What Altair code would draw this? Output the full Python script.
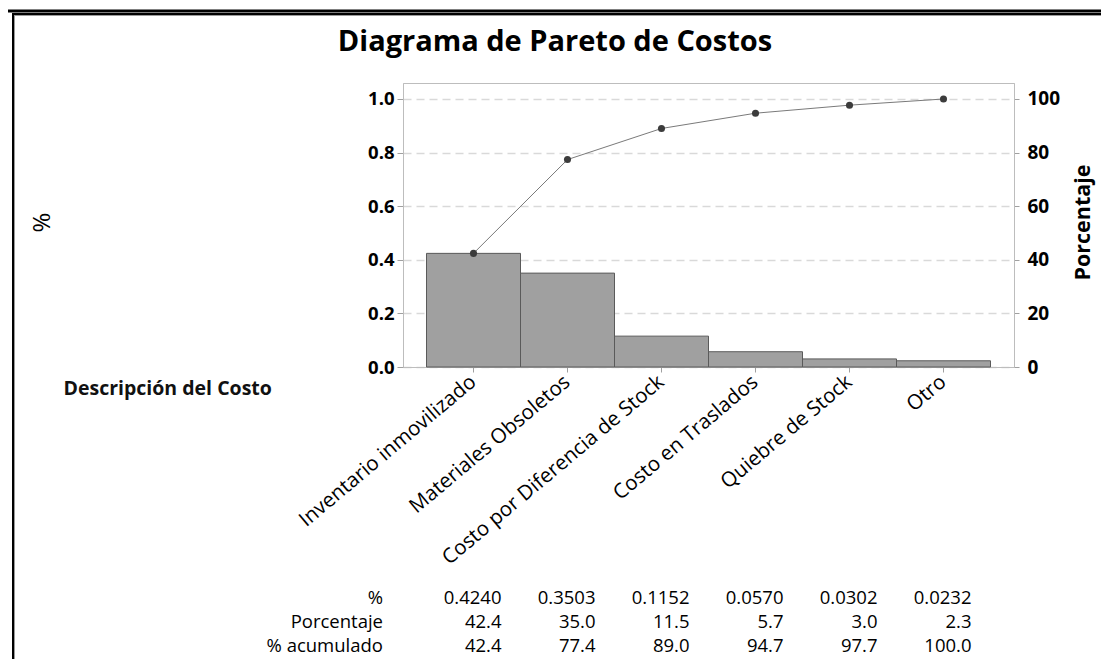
import altair as alt
import pandas as pd

categories = ["Inventario inmovilizado", "Materiales Obsoletos", "Costo por Diferencia de Stock",
              "Costo en Traslados", "Quiebre de Stock", "Otro"]
fraction = [0.4240, 0.3503, 0.1152, 0.0570, 0.0302, 0.0232]
porcentaje = [42.4, 35.0, 11.5, 5.7, 3.0, 2.3]
acumulado = [42.4, 77.4, 89.0, 94.7, 97.7, 100.0]
row_labels = ["%", "Porcentaje", "% acumulado"]
left_ticks = [0.0, 0.2, 0.4, 0.6, 0.8, 1.0]
right_ticks = [0, 20, 40, 60, 80, 100]

FONT = "Open Sans"
W, H = 611, 284

df = pd.DataFrame({"cat": categories, "frac": fraction, "pct": porcentaje, "acum": acumulado})

rows = []
for c, f, p, a in zip(categories, fraction, porcentaje, acumulado):
    rows.append({"cat": c, "row": row_labels[0], "txt": f"{f:.4f}"})
    rows.append({"cat": c, "row": row_labels[1], "txt": f"{p:.1f}"})
    rows.append({"cat": c, "row": row_labels[2], "txt": f"{a:.1f}"})
table_df = pd.DataFrame(rows)
labels_df = pd.DataFrame({"row": row_labels})
one = pd.DataFrame({"k": [0]})

xenc = alt.X("cat:N", sort=categories,
             scale=alt.Scale(paddingInner=0, paddingOuter=0.25),
             axis=alt.Axis(title="Descripción del Costo", labelAngle=-40, labelAlign="right",
                           labelBaseline="middle", labelFontSize=20.5, labelColor="black",
                           labelPadding=7, tickSize=5, tickColor="#a0a0a0", domainColor="#bdbdbd",
                           titleX=-340, titleY=21, titleAlign="left", titleBaseline="middle",
                           titleAngle=0, titleFontSize=19.5, titleFontWeight="bold",
                           titleColor="#111111", labelLimit=400))

bars = alt.Chart(df).mark_bar(fill="#a0a0a0", stroke="#5a5a5a", strokeWidth=1).encode(
    x=xenc,
    y=alt.Y("frac:Q", scale=alt.Scale(domain=[0, 1.0597], nice=False),
            axis=alt.Axis(title="%", values=left_ticks, format=".1f", labelFontSize=18.5,
                          labelFontWeight="bold", labelColor="black", labelPadding=3, tickSize=6,
                          tickColor="#a0a0a0", domainColor="#bdbdbd", grid=True,
                          gridColor="#d9d9d9", gridDash=[8, 5], gridWidth=1.5,
                          titleX=-361, titleY=139, titleAngle=270, titleAlign="center",
                          titleBaseline="middle", titleFontSize=24, titleFontWeight="normal",
                          titleColor="black"))
)

line = alt.Chart(df).mark_line(color="#7a7a7a", strokeWidth=1,
                               point=alt.OverlayMarkDef(filled=True, size=50, color="#3c3c3c")).encode(
    x=alt.X("cat:N", sort=categories),
    y=alt.Y("acum:Q", scale=alt.Scale(domain=[0, 105.97], nice=False),
            axis=alt.Axis(title="Porcentaje", orient="right", values=right_ticks, grid=False,
                          labelFontSize=19, labelFontWeight="bold", labelColor="black",
                          labelPadding=8, tickSize=5, tickColor="#a0a0a0", domainColor="#bdbdbd",
                          titleX=69, titleY=139, titleAngle=270, titleAlign="center",
                          titleBaseline="middle", titleFontSize=21.5, titleFontWeight="bold",
                          titleColor="black"))
)

table_vals = alt.Chart(table_df).mark_text(align="right", baseline="middle", dx=28,
                                           fontSize=18.5, color="black").encode(
    x=alt.X("cat:N", sort=categories),
    y=alt.Y("row:N", scale=alt.Scale(domain=row_labels, range=[515, 563], padding=0), axis=None),
    text="txt:N",
)

table_labels = alt.Chart(labels_df).mark_text(align="right", baseline="middle",
                                              fontSize=18.5, color="black").encode(
    x=alt.value(-20),
    y=alt.Y("row:N", scale=alt.Scale(domain=row_labels, range=[515, 563], padding=0), axis=None),
    text="row:N",
)

title = alt.Chart(one).mark_text(text="Diagrama de Pareto de Costos", fontSize=29,
                                 fontWeight="bold", align="center", baseline="middle",
                                 color="black").encode(x=alt.value(152), y=alt.value(-41))

top_bar = alt.Chart(one).mark_rule(color="black", strokeWidth=3).encode(
    x=alt.value(-395), x2=alt.value(698), y=alt.value(-72))
frame_top = alt.Chart(one).mark_rule(color="black", strokeWidth=2).encode(
    x=alt.value(-391), x2=alt.value(698), y=alt.value(-69))
frame_top2 = alt.Chart(one).mark_rule(color="#9a9a9a", strokeWidth=1).encode(
    x=alt.value(-389), x2=alt.value(698), y=alt.value(-67.5))
frame_left = alt.Chart(one).mark_rule(color="black", strokeWidth=2).encode(
    x=alt.value(-390), y=alt.value(-70), y2=alt.value(576))
frame_left2 = alt.Chart(one).mark_rule(color="#9a9a9a", strokeWidth=1).encode(
    x=alt.value(-388.5), y=alt.value(-68), y2=alt.value(576))

chart = alt.layer(bars, line, table_vals, table_labels, title,
                  top_bar, frame_top, frame_top2, frame_left, frame_left2).resolve_scale(
    y="independent"
).properties(
    width=W, height=H, autosize="none",
    padding={"left": 395, "top": 75, "right": 87, "bottom": 292},
).configure(font=FONT).configure_view(stroke="#bdbdbd")

chart.save("out.html", embed_options={"renderer": "svg", "actions": False})
